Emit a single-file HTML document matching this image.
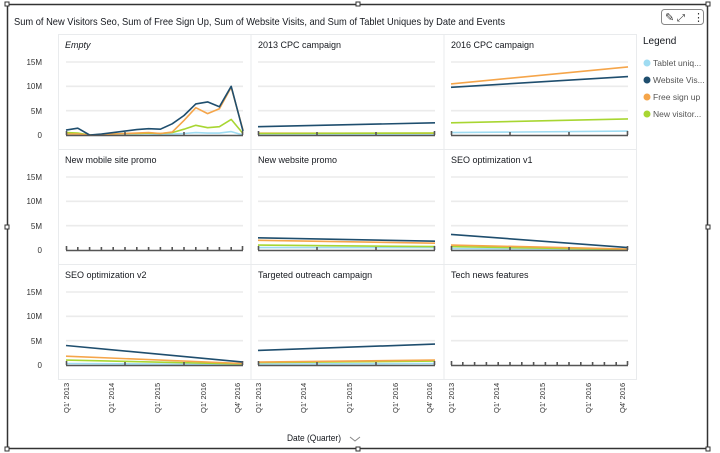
<!DOCTYPE html>
<html><head><meta charset="utf-8"><style>
body{margin:0;background:#fff;}
svg{display:block;font-family:"Liberation Sans",sans-serif;}
</style></head><body>
<svg width="720" height="453" viewBox="0 0 720 453" xmlns="http://www.w3.org/2000/svg">
<rect x="0" y="0" width="720" height="453" fill="#fff"/>
<rect x="7.5" y="4.5" width="700" height="444" fill="none" stroke="#333" stroke-width="1.5"/>
<g fill="#fff" stroke="#333" stroke-width="1">
<rect x="5" y="2" width="4" height="4"/><rect x="356" y="2" width="4" height="4"/><rect x="706" y="2" width="4" height="4"/>
<rect x="5" y="225" width="4" height="4"/><rect x="706" y="225" width="4" height="4"/>
<rect x="5" y="447" width="4" height="4"/><rect x="356" y="447" width="4" height="4"/><rect x="706" y="447" width="4" height="4"/>
</g>
<text x="14" y="25" font-size="10.5" fill="#16191f" textLength="491" lengthAdjust="spacingAndGlyphs">Sum of New Visitors Seo, Sum of Free Sign Up, Sum of Website Visits, and Sum of Tablet Uniques by Date and Events</text>
<rect x="661.5" y="9.5" width="42" height="15" rx="3" fill="#fff" stroke="#888"/>
<text x="665" y="21" font-size="11" fill="#333">✎</text>
<text x="677" y="21" font-size="10" fill="#333">⤢</text>
<text x="693" y="21" font-size="11" fill="#333">⋮</text>
<g stroke="#e9ebed" stroke-width="1" fill="none">
<rect x="58.5" y="34.5" width="578" height="345"/>
<line x1="251" y1="34" x2="251" y2="380"/><line x1="444" y1="34" x2="444" y2="380"/>
<line x1="58" y1="149.5" x2="637" y2="149.5"/><line x1="58" y1="264.5" x2="637" y2="264.5"/>
</g>
<g font-size="8" fill="#333" text-anchor="end">
<text x="42" y="65">15M</text><text x="42" y="89">10M</text><text x="42" y="114">5M</text><text x="42" y="138">0</text>
<text x="42" y="180">15M</text><text x="42" y="204">10M</text><text x="42" y="229">5M</text><text x="42" y="253">0</text>
<text x="42" y="295">15M</text><text x="42" y="319">10M</text><text x="42" y="344">5M</text><text x="42" y="368">0</text>
</g>
<g font-size="9" fill="#16191f">
<text x="65" y="48" font-style="italic">Empty</text>
<text x="258" y="48">2013 CPC campaign</text>
<text x="451" y="48">2016 CPC campaign</text>
<text x="65" y="163">New mobile site promo</text>
<text x="258" y="163">New website promo</text>
<text x="451" y="163">SEO optimization v1</text>
<text x="65" y="278">SEO optimization v2</text>
<text x="258" y="278">Targeted outreach campaign</text>
<text x="451" y="278">Tech news features</text>
</g>
<defs>
<g id="grid">
<line x1="0" y1="-73" x2="177" y2="-73" stroke="#ebebeb"/>
<line x1="0" y1="-48.7" x2="177" y2="-48.7" stroke="#ebebeb"/>
<line x1="0" y1="-24.3" x2="177" y2="-24.3" stroke="#ebebeb"/>
</g>
<g id="axY">
<line x1="0" y1="0.5" x2="177" y2="0.5" stroke="#555"/>
<path d="M0.5 0v-4M59 0v-3M118 0v-3M176.5 0v-4" stroke="#555"/>
</g>
<g id="axQ">
<line x1="0" y1="0.5" x2="177" y2="0.5" stroke="#555"/>
<path d="M0.5 0v-4M11.8 0v-3M23.6 0v-3M35.4 0v-3M47.2 0v-3M59 0v-3M70.8 0v-3M82.6 0v-3M94.4 0v-3M106.2 0v-3M118 0v-3M129.8 0v-3M141.6 0v-3M153.4 0v-3M165.2 0v-3M176.5 0v-4" stroke="#555"/>
</g>
</defs>
<g fill="none" stroke-width="1.6" stroke-linejoin="round">
<g transform="translate(66,135)">
<use href="#grid"/>
<polyline stroke="#9fdcf2" points="0,0 11.8,0 23.6,0 35.4,0 47.2,0 59,0 70.8,0 82.6,0 94.4,-0.5 106.2,-1 118,-1.5 129.8,-2.4 141.6,-1.9 153.4,-1.9 165.2,-3.4 177,0"/>
<polyline stroke="#a8d632" points="0,-2.4 11.8,-1.9 23.6,0 35.4,-0.5 47.2,-1 59,-1.5 70.8,-1.5 82.6,-1.9 94.4,-1.5 106.2,-2.4 118,-5.8 129.8,-9.7 141.6,-7.3 153.4,-8.3 165.2,-15.6 177,-1.5"/>
<polyline stroke="#f5a54a" points="0,-1 11.8,-1 23.6,0 35.4,-0.5 47.2,-1 59,-1.5 70.8,-1.9 82.6,-2.4 94.4,-1.5 106.2,-2.9 118,-14.6 129.8,-27.3 141.6,-21.4 153.4,-26.3 165.2,-47.7 177,-4.9"/>
<polyline stroke="#1f4e6e" points="0,-4.9 11.8,-6.8 23.6,0 35.4,-1 47.2,-2.4 59,-3.9 70.8,-5.4 82.6,-6.3 94.4,-5.8 106.2,-11.2 118,-19.5 129.8,-31.1 141.6,-33.1 153.4,-28.2 165.2,-48.7 177,-3.9"/>
<use href="#axY"/>
</g>
<g transform="translate(258,135)">
<use href="#grid"/>
<line x1="0" y1="-1" x2="177" y2="-1" stroke="#9fdcf2"/>
<line x1="0" y1="-1.8" x2="177" y2="-1.8" stroke="#f5a54a"/>
<line x1="0" y1="-1.5" x2="177" y2="-2" stroke="#a8d632"/>
<line x1="0" y1="-8.3" x2="177" y2="-12.2" stroke="#1f4e6e"/>
<use href="#axY"/>
</g>
<g transform="translate(451,135)">
<use href="#grid"/>
<line x1="0" y1="-2.4" x2="177" y2="-3.9" stroke="#9fdcf2"/>
<line x1="0" y1="-12.2" x2="177" y2="-16.1" stroke="#a8d632"/>
<line x1="0" y1="-47.7" x2="177" y2="-58.4" stroke="#1f4e6e"/>
<line x1="0" y1="-51.1" x2="177" y2="-68.1" stroke="#f5a54a"/>
<use href="#axY"/>
</g>
<g transform="translate(66,250)"><use href="#grid"/><use href="#axQ"/></g>
<g transform="translate(258,250)">
<use href="#grid"/>
<line x1="0" y1="-2.4" x2="177" y2="-2.4" stroke="#9fdcf2"/>
<line x1="0" y1="-4.9" x2="177" y2="-3.4" stroke="#a8d632"/>
<line x1="0" y1="-9.7" x2="177" y2="-6.8" stroke="#f5a54a"/>
<line x1="0" y1="-12.2" x2="177" y2="-8.8" stroke="#1f4e6e"/>
<use href="#axY"/>
</g>
<g transform="translate(451,250)">
<use href="#grid"/>
<line x1="0" y1="-1.5" x2="177" y2="-0.5" stroke="#9fdcf2"/>
<line x1="0" y1="-3.4" x2="177" y2="-0.5" stroke="#a8d632"/>
<line x1="0" y1="-4.9" x2="177" y2="-1" stroke="#f5a54a"/>
<line x1="0" y1="-15.6" x2="177" y2="-2.4" stroke="#1f4e6e"/>
<use href="#axY"/>
</g>
<g transform="translate(66,365)">
<use href="#grid"/>
<line x1="0" y1="-1.5" x2="177" y2="-0.5" stroke="#9fdcf2"/>
<line x1="0" y1="-4.9" x2="177" y2="-1" stroke="#a8d632"/>
<line x1="0" y1="-8.8" x2="177" y2="-1.5" stroke="#f5a54a"/>
<line x1="0" y1="-19.5" x2="177" y2="-2.9" stroke="#1f4e6e"/>
<use href="#axY"/>
</g>
<g transform="translate(258,365)">
<use href="#grid"/>
<line x1="0" y1="-1" x2="177" y2="-1.5" stroke="#9fdcf2"/>
<line x1="0" y1="-2.4" x2="177" y2="-3.9" stroke="#a8d632"/>
<line x1="0" y1="-2.9" x2="177" y2="-4.9" stroke="#f5a54a"/>
<line x1="0" y1="-14.6" x2="177" y2="-20.9" stroke="#1f4e6e"/>
<use href="#axY"/>
</g>
<g transform="translate(451,365)"><use href="#grid"/><use href="#axQ"/></g>
</g>
<g font-size="7.5" fill="#333">
<g id="xl1">
<text transform="translate(69,413) rotate(-90)">Q1' 2013</text>
<text transform="translate(114,413) rotate(-90)">Q1' 2014</text>
<text transform="translate(160,413) rotate(-90)">Q1' 2015</text>
<text transform="translate(206,413) rotate(-90)">Q1' 2016</text>
<text transform="translate(240,413) rotate(-90)">Q4' 2016</text>
</g>
<use href="#xl1" x="192"/>
<use href="#xl1" x="385"/>
</g>
<text x="287" y="441" font-size="9.5" fill="#16191f" textLength="54" lengthAdjust="spacingAndGlyphs">Date (Quarter)</text>
<path d="M350 437l5 4 5-4" fill="none" stroke="#888"/>
<text x="643" y="44" font-size="10" fill="#16191f">Legend</text>
<g font-size="8.5" fill="#555">
<circle cx="647" cy="63" r="3.5" fill="#9fdcf2"/><text x="653" y="66">Tablet uniq...</text>
<circle cx="647" cy="80" r="3.5" fill="#1f4e6e"/><text x="653" y="83">Website Vis...</text>
<circle cx="647" cy="97" r="3.5" fill="#f5a54a"/><text x="653" y="100">Free sign up</text>
<circle cx="647" cy="114" r="3.5" fill="#a8d632"/><text x="653" y="117">New visitor...</text>
</g>
</svg>
</body></html>
